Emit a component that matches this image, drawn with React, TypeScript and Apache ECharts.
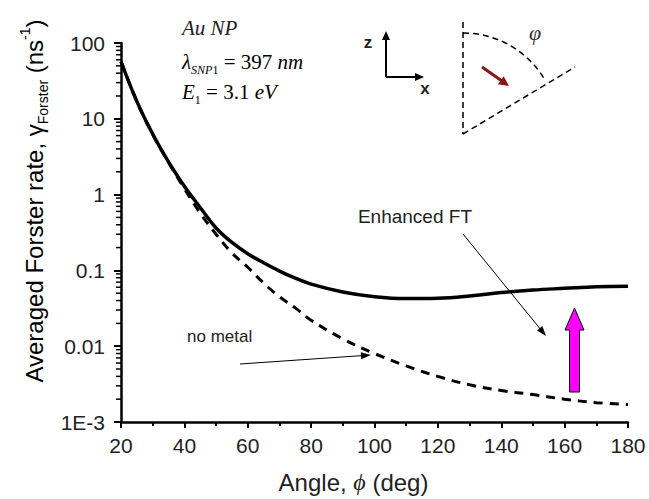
import React, { useEffect, useRef } from "react";
import * as echarts from "echarts";

// Angle grid (deg)
const angles = [20, 25, 30, 35, 40, 45, 50, 55, 60, 65, 70, 75, 80, 90, 100, 110, 120, 130, 140, 150, 160, 170, 180];
// Forster rate near the Au nanoparticle (ns^-1)
const enhancedRate = [57, 17, 6.3, 2.7, 1.29, 0.676, 0.363, 0.234, 0.166, 0.126, 0.098, 0.079, 0.066, 0.052, 0.045, 0.0425, 0.043, 0.046, 0.051, 0.055, 0.058, 0.061, 0.062];
// Forster rate without metal (ns^-1)
const noMetalRate = [57, 17, 6.2, 2.65, 1.2, 0.57, 0.3, 0.17, 0.11, 0.068, 0.045, 0.032, 0.022, 0.0125, 0.008, 0.0055, 0.004, 0.0031, 0.0026, 0.0023, 0.002, 0.0018, 0.0017];

const xTicks = [20, 40, 60, 80, 100, 120, 140, 160, 180];
const yTickLabels = ["1E-3", "0.01", "0.1", "1", "10", "100"];
const yDecades = [0.001, 0.01, 0.1, 1, 10];
const yMinorFactors = [2, 3, 4, 5, 6, 7, 8, 9];

const SANS = "'Liberation Sans', Arial, sans-serif";
const SERIF = "'Liberation Serif', 'Times New Roman', serif";

function head(x1: number, y1: number, x2: number, y2: number, len: number, half: number) {
  const dx = x2 - x1;
  const dy = y2 - y1;
  const d = Math.hypot(dx, dy);
  const ux = dx / d;
  const uy = dy / d;
  const bx = x2 - ux * len;
  const by = y2 - uy * len;
  return [
    [x2, y2],
    [bx - uy * half, by + ux * half],
    [bx + uy * half, by - ux * half],
  ];
}

function arrow(x1: number, y1: number, x2: number, y2: number, color: string, width: number, len: number, half: number) {
  const dx = x2 - x1;
  const dy = y2 - y1;
  const d = Math.hypot(dx, dy);
  const ex = x2 - (dx / d) * (len - 1);
  const ey = y2 - (dy / d) * (len - 1);
  return [
    { type: "line", shape: { x1, y1, x2: ex, y2: ey }, style: { stroke: color, lineWidth: width } },
    { type: "polygon", shape: { points: head(x1, y1, x2, y2, len, half) }, style: { fill: color } },
  ];
}

export default function App() {
  const ref = useRef<HTMLDivElement>(null);

  useEffect(() => {
    if (!ref.current) return;
    const chart = echarts.init(ref.current, null, { renderer: "svg" });

    const yMinor: number[][] = [];
    yDecades.forEach((d) => yMinorFactors.forEach((f) => yMinor.push([20, d * f])));

    const option: any = {
      animation: false,
      backgroundColor: "#ffffff",
      grid: { left: 121, right: 21, top: 43, bottom: 76 },
      xAxis: {
        type: "value",
        min: 20,
        max: 180,
        interval: 20,
        name: "{a|Angle, }{p|ϕ}{a| (deg)}",
        nameLocation: "middle",
        nameGap: 48,
        nameTextStyle: {
          padding: [0, 42, 0, 0],
          rich: {
            a: { fontFamily: SANS, fontSize: 24, color: "#222" },
            p: { fontFamily: SERIF, fontStyle: "italic", fontSize: 24, color: "#222" },
          },
        },
        axisLine: { show: true, onZero: false, lineStyle: { color: "#000", width: 2.5 } },
        axisTick: { show: true, inside: false, length: 6, lineStyle: { color: "#000", width: 2 } },
        minorTick: { show: true, splitNumber: 2, length: 4, lineStyle: { color: "#000", width: 2 } },
        axisLabel: {
          margin: 13,
          fontFamily: SANS,
          fontSize: 21,
          color: "#222",
          formatter: (v: number) => (xTicks.includes(v) ? String(v) : ""),
        },
        splitLine: { show: false },
      },
      yAxis: {
        type: "log",
        logBase: 10,
        min: 0.001,
        max: 100,
        axisLine: { show: true, lineStyle: { color: "#000", width: 2.5 } },
        axisTick: { show: true, inside: false, length: 7, lineStyle: { color: "#000", width: 2 } },
        axisLabel: {
          margin: 16,
          fontFamily: SANS,
          fontSize: 21,
          color: "#222",
          formatter: (v: number) => yTickLabels[Math.round(Math.log10(v)) + 3] ?? "",
        },
        splitLine: { show: false },
      },
      series: [
        {
          name: "Enhanced FT",
          type: "line",
          data: angles.map((a, i) => [a, enhancedRate[i]]),
          showSymbol: false,
          smooth: 0.4,
          lineStyle: { color: "#000", width: 3.5 },
          z: 3,
        },
        {
          name: "no metal",
          type: "line",
          data: angles.map((a, i) => [a, noMetalRate[i]]),
          showSymbol: false,
          smooth: 0.4,
          lineStyle: { color: "#000", width: 3, type: [9, 7] },
          z: 3,
        },
        {
          name: "minor ticks",
          type: "custom",
          silent: true,
          clip: false,
          data: yMinor,
          renderItem: (_p: any, api: any) => {
            const pt = api.coord([api.value(0), api.value(1)]);
            return {
              type: "line",
              shape: { x1: pt[0] - 5, y1: pt[1], x2: pt[0], y2: pt[1] },
              style: { stroke: "#000", lineWidth: 1.5 },
            };
          },
        },
      ],
      graphic: [
        // rotated y-axis title
        {
          type: "text",
          x: 34,
          y: 201,
          rotation: Math.PI / 2,
          style: {
            text: "{a|Averaged Forster rate, }{g|γ}{s|Forster}{a| (ns}{p|-1}{a|)}",
            align: "center",
            verticalAlign: "middle",
            rich: {
              a: { fontFamily: SANS, fontSize: 24, color: "#222", lineHeight: 32 },
              g: { fontFamily: SANS, fontSize: 24, color: "#222", lineHeight: 32 },
              s: { fontFamily: SANS, fontSize: 14, color: "#222", lineHeight: 15, verticalAlign: "bottom" },
              p: { fontFamily: SANS, fontSize: 14, color: "#222", lineHeight: 15, verticalAlign: "top" },
            },
          },
        },
        // parameter block
        {
          type: "text",
          x: 182,
          y: 28,
          style: {
            text: "Au NP",
            fontFamily: SERIF,
            fontStyle: "italic",
            fontSize: 21,
            fill: "#222",
            verticalAlign: "middle",
          },
        },
        {
          type: "text",
          x: 182,
          y: 62,
          style: {
            text: "{i|λ}{s|SNP}{t|1}{r| = 397 }{i|nm}",
            verticalAlign: "middle",
            rich: {
              i: { fontFamily: SERIF, fontStyle: "italic", fontSize: 21, color: "#222", lineHeight: 28 },
              r: { fontFamily: SERIF, fontSize: 21, color: "#222", lineHeight: 28 },
              s: { fontFamily: SERIF, fontStyle: "italic", fontSize: 12, color: "#222", lineHeight: 14, verticalAlign: "bottom" },
              t: { fontFamily: SERIF, fontSize: 12, color: "#222", lineHeight: 14, verticalAlign: "bottom" },
            },
          },
        },
        {
          type: "text",
          x: 182,
          y: 92,
          style: {
            text: "{i|E}{t|1}{r| = 3.1 }{i|eV}",
            verticalAlign: "middle",
            rich: {
              i: { fontFamily: SERIF, fontStyle: "italic", fontSize: 21, color: "#222", lineHeight: 28 },
              r: { fontFamily: SERIF, fontSize: 21, color: "#222", lineHeight: 28 },
              t: { fontFamily: SERIF, fontSize: 12, color: "#222", lineHeight: 14, verticalAlign: "bottom" },
            },
          },
        },
        // coordinate frame
        ...arrow(386, 77, 386, 31, "#000", 2, 9, 4),
        ...arrow(386, 77, 424, 77, "#000", 2, 9, 4),
        {
          type: "text",
          x: 368,
          y: 42,
          style: { text: "z", fontFamily: SANS, fontWeight: "bold", fontSize: 17, fill: "#222", align: "center", verticalAlign: "middle" },
        },
        {
          type: "text",
          x: 425,
          y: 88,
          style: { text: "x", fontFamily: SANS, fontWeight: "bold", fontSize: 17, fill: "#222", align: "center", verticalAlign: "middle" },
        },
        // angle sketch
        {
          type: "line",
          shape: { x1: 463, y1: 22, x2: 463, y2: 134 },
          style: { stroke: "#000", lineWidth: 1.5, lineDash: [6, 4] },
        },
        {
          type: "line",
          shape: { x1: 463, y1: 134, x2: 575, y2: 67 },
          style: { stroke: "#000", lineWidth: 1.5, lineDash: [6, 4] },
        },
        {
          type: "arc",
          shape: { cx: 463, cy: 128, r: 95, startAngle: -Math.PI / 2, endAngle: -0.53, clockwise: true },
          style: { stroke: "#000", lineWidth: 1.5, lineDash: [6, 4], fill: null },
        },
        {
          type: "text",
          x: 535,
          y: 32,
          style: { text: "φ", fontFamily: SERIF, fontStyle: "italic", fontSize: 22, fill: "#333", align: "center", verticalAlign: "middle" },
        },
        ...arrow(482, 67, 509, 86, "#8b1515", 3, 10, 5),
        // curve annotations
        {
          type: "text",
          x: 472,
          y: 216,
          style: { text: "Enhanced FT", fontFamily: SANS, fontSize: 19, fill: "#222", align: "right", verticalAlign: "middle" },
        },
        ...arrow(463, 234, 546, 336, "#000", 1, 10, 3.5),
        {
          type: "text",
          x: 187,
          y: 336,
          style: { text: "no metal", fontFamily: SANS, fontSize: 17, fill: "#222", verticalAlign: "middle" },
        },
        ...arrow(240, 364, 371, 355, "#000", 1, 10, 3.5),
        {
          type: "polygon",
          shape: {
            points: [
              [569.5, 392],
              [579.5, 392],
              [579.5, 330],
              [584, 330],
              [574.5, 308],
              [565, 330],
              [569.5, 330],
            ],
          },
          style: { fill: "#ff00ff", stroke: "#000", lineWidth: 1 },
        },
      ],
    };

    chart.setOption(option);
    return () => chart.dispose();
  }, []);

  return <div ref={ref} style={{ position: "fixed", left: 0, top: 0, width: 649, height: 499 }} />;
}
